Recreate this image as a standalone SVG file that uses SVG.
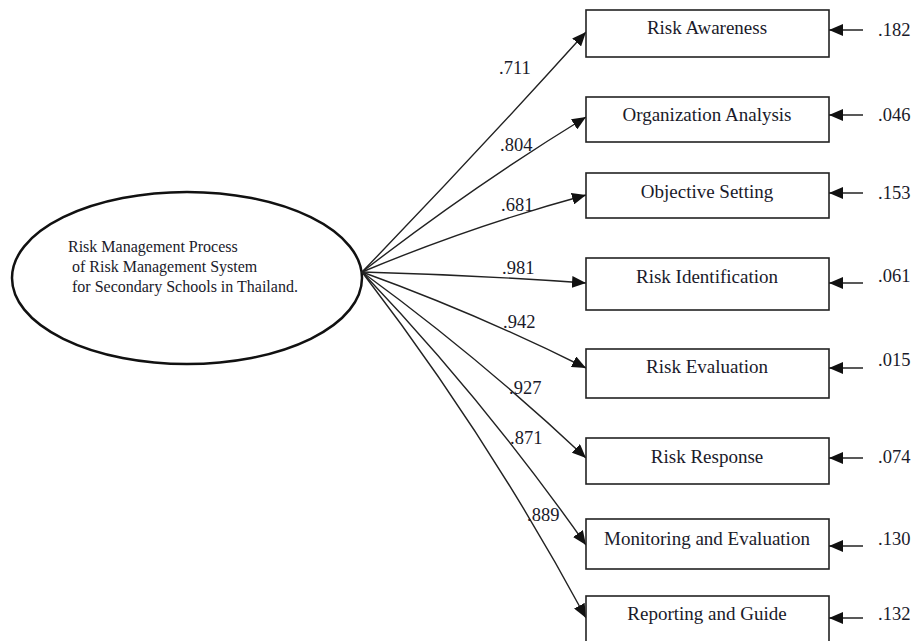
<svg xmlns="http://www.w3.org/2000/svg" width="915" height="641" viewBox="0 0 915 641">
<defs>
<marker id="ah" markerUnits="userSpaceOnUse" markerWidth="14" markerHeight="12" refX="14" refY="6" orient="auto">
<path d="M0,0 L14,6 L0,12 z" fill="#111"/>
</marker>
<style>
text{font-family:"Liberation Serif","Times New Roman",serif;fill:#1a1a2a}
.box{fill:#fff;stroke:#222;stroke-width:1.6}
.lbl{font-size:19px;text-anchor:middle}
.num{font-size:18.5px}
.ell{font-size:16px}
.con{fill:none;stroke:#222;stroke-width:1.4;marker-end:url(#ah)}
</style>
</defs>
<rect width="915" height="641" fill="#fff"/>
<g id="latent">
<ellipse cx="187" cy="278" rx="175" ry="86" fill="#fff" stroke="#111" stroke-width="2.5"/>
<text class="ell" x="68" y="252">Risk Management Process</text>
<text class="ell" x="72" y="272">of Risk Management System</text>
<text class="ell" x="72" y="292">for Secondary Schools in Thailand.</text>
</g>
<g id="connectors">
<path class="con" d="M362,272 Q476,154 586,32"/>
<path class="con" d="M362,272 Q472,187 586,117"/>
<path class="con" d="M362,272 Q472,226 586,195"/>
<path class="con" d="M362,272 Q474,275 586,283"/>
<path class="con" d="M362,272 Q478,314 586,368"/>
<path class="con" d="M362,272 Q480,358 586,458"/>
<path class="con" d="M362,272 Q484,400 586,545"/>
<path class="con" d="M362,272 Q488,436 586,618"/>
<path class="con" d="M863,30 L829,30"/>
<path class="con" d="M863,115 L829,115"/>
<path class="con" d="M863,193 L829,193"/>
<path class="con" d="M863,283 L829,283"/>
<path class="con" d="M863,368 L829,368"/>
<path class="con" d="M863,458 L829,458"/>
<path class="con" d="M863,546 L829,546"/>
<path class="con" d="M863,618 L829,618"/>
</g>
<g id="loadings">
<text class="num" x="499" y="74">.711</text>
<text class="num" x="500" y="151">.804</text>
<text class="num" x="501" y="211">.681</text>
<text class="num" x="502" y="274">.981</text>
<text class="num" x="503" y="328">.942</text>
<text class="num" x="509" y="394">.927</text>
<text class="num" x="510" y="444">.871</text>
<text class="num" x="527" y="521">.889</text>
</g>
<g id="n1"><rect class="box" x="586" y="10" width="243" height="47"/><text class="lbl" x="707" y="34">Risk Awareness</text><text class="num" x="878" y="36">.182</text></g>
<g id="n2"><rect class="box" x="586" y="97" width="243" height="45"/><text class="lbl" x="707" y="121">Organization Analysis</text><text class="num" x="878" y="121">.046</text></g>
<g id="n3"><rect class="box" x="586" y="173" width="243" height="45"/><text class="lbl" x="707" y="198">Objective Setting</text><text class="num" x="878" y="199">.153</text></g>
<g id="n4"><rect class="box" x="586" y="258" width="243" height="52"/><text class="lbl" x="707" y="283">Risk Identification</text><text class="num" x="878" y="282">.061</text></g>
<g id="n5"><rect class="box" x="586" y="349" width="243" height="49"/><text class="lbl" x="707" y="373">Risk Evaluation</text><text class="num" x="878" y="366">.015</text></g>
<g id="n6"><rect class="box" x="586" y="438" width="243" height="46"/><text class="lbl" x="707" y="463">Risk Response</text><text class="num" x="878" y="463">.074</text></g>
<g id="n7"><rect class="box" x="586" y="519" width="243" height="50"/><text class="lbl" x="707" y="545">Monitoring and Evaluation</text><text class="num" x="878" y="545">.130</text></g>
<g id="n8"><rect class="box" x="586" y="596" width="243" height="50"/><text class="lbl" x="707" y="620">Reporting and Guide</text><text class="num" x="878" y="620">.132</text></g>
</svg>
